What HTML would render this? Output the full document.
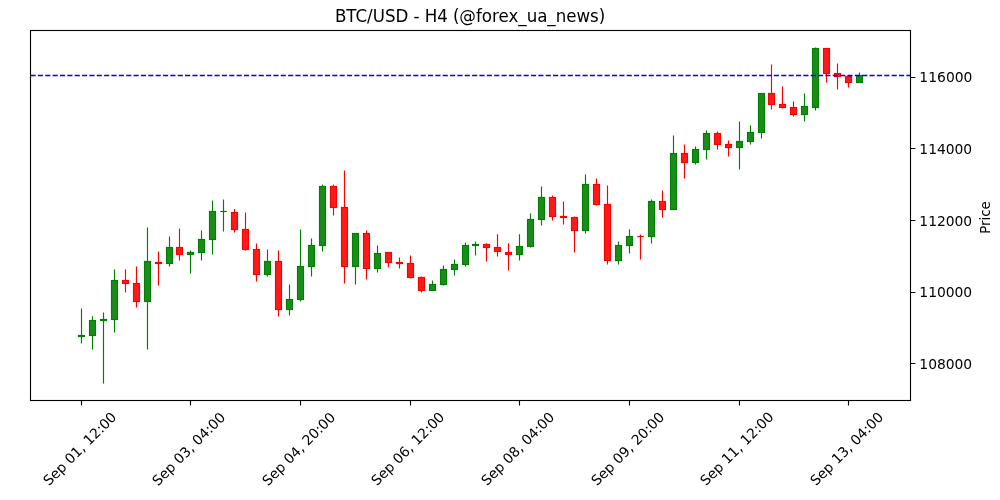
<!DOCTYPE html>
<html lang="en"><head><meta charset="utf-8"><title>BTC/USD - H4</title>
<style>html,body{margin:0;padding:0;background:#fff;}body{width:1000px;height:500px;overflow:hidden;}svg{display:block;}text{font-family:"DejaVu Sans","Liberation Sans",sans-serif;fill:#000;}</style></head><body>
<svg width="1000" height="500" viewBox="0 0 1000 500">
<rect x="0" y="0" width="1000" height="500" fill="#ffffff"/>
<path d="M81.5 308.4V343.6M92.5 316.2V349.4M103.5 312.4V383.4M114.5 269.4V332.6M147.5 227.4V349.4M169.5 236.4V266.4M190.5 250.4V273.4M201.5 230.4V260.4M212.5 200.4V254.4M223.5 199.4V231.4M267.5 249.4V276.4M289.5 284.4V315.4M300.5 229.4V301.4M311.5 238.4V276.4M322.5 184.4V251.4M355.5 233.0V284.4M377.5 245.4V272.4M432.5 280.4V291.0M443.5 265.4V285.6M454.5 259.4V275.4M465.5 242.4V266.4M475.5 241.4V255.4M519.5 234.2V260.5M530.5 213.4V247.5M541.5 186.4V225.4M585.5 174.4V233.4M618.5 241.4V264.4M629.5 229.4V253.4M651.5 199.4V243.4M673.5 135.4V210.0M695.5 146.4V164.4M706.5 130.4V159.4M739.5 121.4V169.4M750.5 125.4V144.4M761.5 93.0V138.4M804.5 93.4V121.4M815.5 47.4V110.4M859.5 72.4V83.0" stroke="#008000" stroke-width="1.15" fill="none"/>
<g fill="#1a8c1a" stroke="#008000" stroke-width="1.15"><rect x="78.5" y="335.5" width="6" height="1.0"/><rect x="89.5" y="320.5" width="6" height="15.0"/><rect x="100.5" y="319.5" width="6" height="1.0"/><rect x="111.5" y="280.5" width="6" height="39.0"/><rect x="144.5" y="261.5" width="6" height="40.0"/><rect x="166.5" y="247.5" width="6" height="16.0"/><rect x="187.5" y="252.5" width="6" height="2.0"/><rect x="198.5" y="239.5" width="6" height="13.0"/><rect x="209.5" y="211.5" width="6" height="28.0"/><path d="M220.2 211.5h6.6"/><rect x="264.5" y="261.5" width="6" height="13.0"/><rect x="286.5" y="299.5" width="6" height="10.0"/><rect x="297.5" y="266.5" width="6" height="33.0"/><rect x="308.5" y="245.5" width="6" height="21.0"/><rect x="319.5" y="186.5" width="6" height="59.0"/><rect x="352.5" y="233.5" width="6" height="33.0"/><rect x="374.5" y="253.5" width="6" height="15.0"/><rect x="429.5" y="284.5" width="6" height="6.0"/><rect x="440.5" y="269.5" width="6" height="15.0"/><rect x="451.5" y="264.5" width="6" height="5.0"/><rect x="462.5" y="245.5" width="6" height="19.0"/><rect x="472.5" y="244.5" width="6" height="1.0"/><rect x="516.5" y="246.5" width="6" height="8.0"/><rect x="527.5" y="219.5" width="6" height="27.0"/><rect x="538.5" y="197.5" width="6" height="22.0"/><rect x="582.5" y="184.5" width="6" height="46.0"/><rect x="615.5" y="245.5" width="6" height="15.0"/><rect x="626.5" y="236.5" width="6" height="9.0"/><rect x="648.5" y="201.5" width="6" height="35.0"/><rect x="670.5" y="153.5" width="6" height="56.0"/><rect x="692.5" y="149.5" width="6" height="13.0"/><rect x="703.5" y="133.5" width="6" height="16.0"/><rect x="736.5" y="141.5" width="6" height="6.0"/><rect x="747.5" y="132.5" width="6" height="9.0"/><rect x="758.5" y="93.5" width="6" height="39.0"/><rect x="801.5" y="106.5" width="6" height="8.0"/><rect x="812.5" y="48.5" width="6" height="59.0"/><rect x="856.5" y="75.5" width="6" height="7.0"/></g>
<path d="M125.5 269.4V292.4M136.5 266.6V307.4M158.5 251.6V285.4M179.5 228.6V260.4M234.5 209.0V232.4M245.5 212.4V250.6M256.5 243.4V281.4M278.5 250.4V316.4M333.5 184.4V215.4M344.5 170.4V283.4M366.5 230.4V279.4M388.5 252.0V267.4M399.5 257.4V268.4M410.5 255.6V278.4M421.5 276.4V292.4M486.5 243.2V261.5M497.5 234.2V256.5M508.5 243.2V270.5M552.5 195.4V220.4M563.5 201.4V224.4M574.5 216.4V252.4M596.5 178.4V205.4M607.5 185.4V264.4M640.5 234.4V259.4M662.5 190.4V217.4M684.5 144.4V178.4M717.5 131.4V149.4M728.5 140.4V156.4M771.5 64.4V109.4M782.5 86.4V108.4M793.5 101.4V116.4M826.5 48.0V82.4M837.5 63.4V89.4M848.5 76.0V87.4" stroke="#ff0000" stroke-width="1.15" fill="none"/>
<g fill="#ff1a1a" stroke="#ff0000" stroke-width="1.15"><rect x="122.5" y="280.5" width="6" height="3.0"/><rect x="133.5" y="283.5" width="6" height="18.0"/><rect x="155.5" y="262.5" width="6" height="1.0"/><rect x="176.5" y="247.5" width="6" height="7.0"/><rect x="231.5" y="212.5" width="6" height="17.0"/><rect x="242.5" y="229.5" width="6" height="20.0"/><rect x="253.5" y="249.5" width="6" height="25.0"/><rect x="275.5" y="261.5" width="6" height="48.0"/><rect x="330.5" y="186.5" width="6" height="21.0"/><rect x="341.5" y="207.5" width="6" height="59.0"/><rect x="363.5" y="233.5" width="6" height="35.0"/><rect x="385.5" y="252.5" width="6" height="10.0"/><rect x="396.5" y="262.5" width="6" height="1.0"/><rect x="407.5" y="263.5" width="6" height="14.0"/><rect x="418.5" y="277.5" width="6" height="13.0"/><rect x="483.5" y="244.5" width="6" height="3.0"/><rect x="494.5" y="247.5" width="6" height="4.0"/><rect x="505.5" y="252.5" width="6" height="2.0"/><rect x="549.5" y="197.5" width="6" height="19.0"/><rect x="560.5" y="216.5" width="6" height="1.0"/><rect x="571.5" y="217.5" width="6" height="13.0"/><rect x="593.5" y="184.5" width="6" height="20.0"/><rect x="604.5" y="204.5" width="6" height="56.0"/><path d="M637.2 236.5h6.6"/><rect x="659.5" y="201.5" width="6" height="8.0"/><rect x="681.5" y="153.5" width="6" height="9.0"/><rect x="714.5" y="133.5" width="6" height="11.0"/><rect x="725.5" y="144.5" width="6" height="3.0"/><rect x="768.5" y="93.5" width="6" height="11.0"/><rect x="779.5" y="104.5" width="6" height="3.0"/><rect x="790.5" y="107.5" width="6" height="7.0"/><rect x="823.5" y="48.5" width="6" height="25.0"/><rect x="834.5" y="73.5" width="6" height="3.0"/><rect x="845.5" y="76.5" width="6" height="6.0"/></g>
<path d="M30.5 75.5H910.5" stroke="#0000ff" stroke-width="1.3" stroke-dasharray="5.14 2.22" fill="none"/>
<rect x="30.5" y="30.5" width="880" height="370" fill="none" stroke="#000" stroke-width="1.11"/>
<path d="M81.5 400.5v4.9M190.5 400.5v4.9M300.5 400.5v4.9M410.5 400.5v4.9M519.5 400.5v4.9M629.5 400.5v4.9M739.5 400.5v4.9M848.5 400.5v4.9M910.5 77.5h4.9M910.5 148.5h4.9M910.5 220.5h4.9M910.5 292.5h4.9M910.5 363.5h4.9" stroke="#000" stroke-width="1.11" fill="none"/>
<text font-size="13.889" transform="translate(48.97 486.33) rotate(-45)" x="0 8.75 17.25 26.125 30.5 39.25 48.125 52.5 56.875 65.75 74.5 79.125 87.875" y="0">Sep 01, 12:00</text>
<text font-size="13.889" transform="translate(157.98 486.42) rotate(-45)" x="0 8.75 17.25 26.125 30.5 39.25 48 52.375 56.75 65.5 74.25 78.875 87.625" y="0">Sep 03, 04:00</text>
<text font-size="13.889" transform="translate(267.96 486.43) rotate(-45)" x="0 8.75 17.25 26.125 30.5 39.25 48 52.375 56.75 65.5 74.25 78.875 87.625" y="0">Sep 04, 20:00</text>
<text font-size="13.889" transform="translate(376.95 486.30) rotate(-45)" x="0 8.75 17.25 26.125 30.5 39.25 48.125 52.5 56.875 65.75 74.5 79.125 87.875" y="0">Sep 06, 12:00</text>
<text font-size="13.889" transform="translate(486.98 486.31) rotate(-45)" x="0 8.75 17.25 26.125 30.5 39.25 48.125 52.5 56.875 65.625 74.375 79 87.75" y="0">Sep 08, 04:00</text>
<text font-size="13.889" transform="translate(597.00 486.33) rotate(-45)" x="0 8.75 17.25 26.125 30.5 39.25 48.125 52.5 56.875 65.625 74.375 79 87.75" y="0">Sep 09, 20:00</text>
<text font-size="13.889" transform="translate(706.03 486.35) rotate(-45)" x="0 8.75 17.25 26.125 30.5 39.375 48.25 52.625 57 65.875 74.625 79.25 88" y="0">Sep 11, 12:00</text>
<text font-size="13.889" transform="translate(815.97 486.37) rotate(-45)" x="0 8.75 17.25 26.125 30.5 39.375 48.125 52.5 56.875 65.625 74.375 79 87.75" y="0">Sep 13, 04:00</text>
<text font-size="13.889" x="919.29 928.165 937.04 945.915 954.665 963.415" y="81.88">116000</text>
<text font-size="13.889" x="919.29 928.165 937.04 945.79 954.54 963.29" y="153.88">114000</text>
<text font-size="13.889" x="919.29 928.165 937.04 945.79 954.54 963.29" y="225.88">112000</text>
<text font-size="13.889" x="919.29 928.165 937.04 945.79 954.54 963.29" y="296.88">110000</text>
<text font-size="13.889" x="919.29 928.165 936.915 945.79 954.54 963.29" y="368.88">108000</text>
<text font-size="13.889" transform="translate(990.4 233.74) rotate(-90) scale(0.955 1)" x="0 8.125 13.875 17.75 25.375" y="0">Price</text>
<text font-size="16.667" transform="translate(0 22.17) scale(1 1.07)" x="334.913 346.288 355.538 367.038 372.663 384.913 395.413 408.288 413.538 419.413 424.663 437.163 447.663 452.913 459.288 475.913 481.788 491.913 498.413 508.413 518.288 526.663 537.163 547.288 555.663 566.163 576.413 590.038 598.788" y="0">BTC/USD - H4 (@forex_ua_news)</text>
</svg></body></html>
